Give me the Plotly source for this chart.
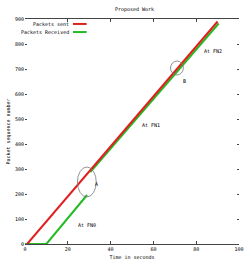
import plotly.graph_objects as go

# Data
sent_t = [1, 90]
sent_seq = [0, 890]
recv_t = [0, 10, 29, None, 30.5, 90.5]
recv_seq = [0, 0, 196, None, 288, 882]

x_ticks = [0, 20, 40, 60, 80, 100]
y_ticks = [0, 100, 200, 300, 400, 500, 600, 700, 800, 900]

labels_text = ["At FN0", "At FN1", "At FN2", "A", "B"]
labels_x = [29, 59, 88, 33.5, 74.5]
labels_y = [76, 476, 772, 240, 652]

FONT = "DejaVu Sans Mono"

fig = go.Figure()
fig.add_trace(go.Scatter(x=recv_t, y=recv_seq, mode="lines", name="Packets Received",
                         line=dict(color="#22bb22", width=2), connectgaps=False, showlegend=False))
fig.add_trace(go.Scatter(x=sent_t, y=sent_seq, mode="lines", name="Packets sent",
                         line=dict(color="#e02020", width=2), showlegend=False))

# ellipses around events
fig.add_shape(type="circle", xref="x", yref="y", x0=24.5, x1=33.3, y0=188, y1=308,
              line=dict(color="#777777", width=0.8))
fig.add_shape(type="circle", xref="x", yref="y", x0=68, x1=74, y0=676, y1=732,
              line=dict(color="#777777", width=0.8))

for t, x, y in zip(labels_text, labels_x, labels_y):
    fig.add_annotation(x=x, y=y, xref="x", yref="y", text=t, showarrow=False,
                       font=dict(family=FONT, size=5, color="black"))

# manual legend (text then line sample)
leg = [("Packets sent", "#e02020", 0.978), ("Packets Received", "#22bb22", 0.942)]
for name, col, yy in leg:
    fig.add_annotation(x=0.215, y=yy, xref="paper", yref="paper", text=name, showarrow=False,
                       xanchor="right", yanchor="middle", font=dict(family=FONT, size=5, color="black"))
    fig.add_shape(type="line", xref="paper", yref="paper", x0=0.224, x1=0.288, y0=yy, y1=yy,
                  line=dict(color=col, width=2))

fig.update_layout(
    width=249, height=270,
    margin=dict(l=25, r=5, t=19, b=26),
    paper_bgcolor="white", plot_bgcolor="white",
    title=dict(text="Proposed Work", x=0.54, xanchor="center", y=0.965, yanchor="middle",
               font=dict(family=FONT, size=5, color="black")),
    font=dict(family=FONT, size=5, color="black"),
    showlegend=False,
)
fig.update_xaxes(range=[0, 100], tickvals=x_ticks, ticktext=[str(v) for v in x_ticks],
                 showgrid=False, zeroline=False, showline=True, mirror="ticks",
                 linecolor="#444444", linewidth=1, ticks="inside", ticklen=3, tickcolor="#444444",
                 title=dict(text="Time in seconds", standoff=4, font=dict(family=FONT, size=5)),
                 tickfont=dict(family=FONT, size=5))
fig.update_yaxes(range=[0, 900], tickvals=y_ticks, ticktext=[str(v) for v in y_ticks],
                 showgrid=False, zeroline=True, zerolinecolor="black", zerolinewidth=2,
                 showline=False, mirror="ticks", ticks="inside", ticklen=2, tickcolor="#444444",
                 title=dict(text="Packet sequence number", standoff=4, font=dict(family=FONT, size=5)),
                 tickfont=dict(family=FONT, size=5))

fig.write_html("out.html")
